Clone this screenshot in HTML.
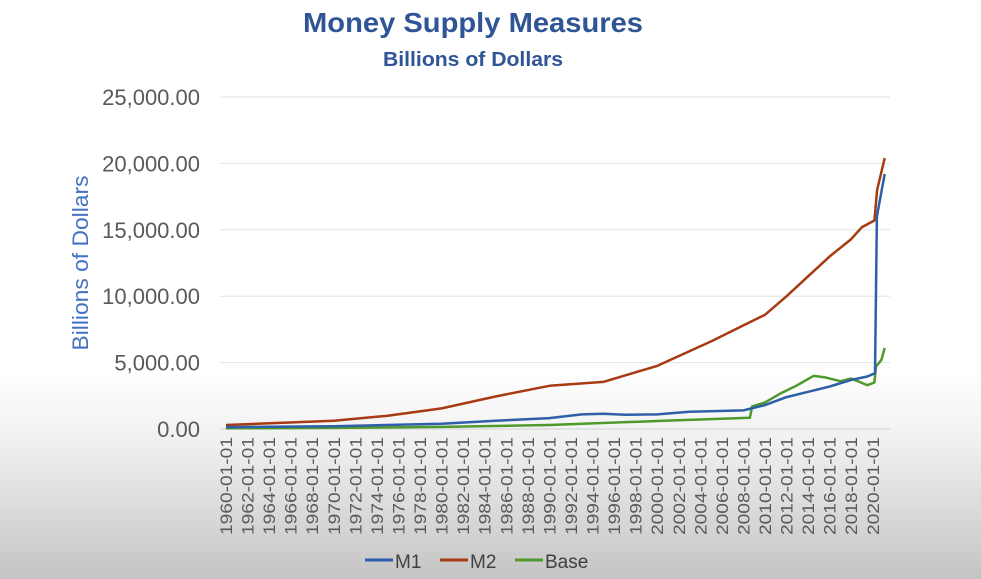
<!DOCTYPE html>
<html><head><meta charset="utf-8"><style>
html,body{margin:0;padding:0;width:981px;height:579px;overflow:hidden;background:#fff;}
svg{display:block;font-family:"Liberation Sans",sans-serif;}
</style></head><body>
<svg id="chart" width="981" height="579">
<defs><linearGradient id="fade" x1="0" y1="0" x2="0" y2="1">
<stop offset="0" stop-color="#ffffff"/><stop offset="0.35" stop-color="#f0f0f0"/><stop offset="1" stop-color="#c4c4c4"/></linearGradient></defs>
<rect x="0" y="370" width="981" height="209" fill="url(#fade)"/>
<text x="473" y="32" text-anchor="middle" font-size="28" font-weight="bold" fill="#2f5597" textLength="340" lengthAdjust="spacingAndGlyphs">Money Supply Measures</text>
<text x="473" y="66" text-anchor="middle" font-size="20" font-weight="bold" fill="#2f5597" textLength="180" lengthAdjust="spacingAndGlyphs">Billions of Dollars</text>
<text transform="translate(88,263) rotate(-90)" text-anchor="middle" font-size="22" fill="#4472c4" textLength="175" lengthAdjust="spacingAndGlyphs">Billions of Dollars</text>
<g id="grid"></g><g id="ylabels"></g><g id="xlabels"></g><g id="series"></g>
<g>
<line x1="365" y1="560" x2="393" y2="560" stroke="#2f5fa8" stroke-width="3"/><text x="395" y="568" font-size="19" fill="#404040">M1</text>
<line x1="440" y1="560" x2="468" y2="560" stroke="#a83a12" stroke-width="3"/><text x="470" y="568" font-size="19" fill="#404040">M2</text>
<line x1="515" y1="560" x2="543" y2="560" stroke="#4f9a2c" stroke-width="3"/><text x="545" y="568" font-size="19" fill="#404040">Base</text>
</g>
</svg>
<script>
const yTicks=[0,5000,10000,15000,20000,25000];
const yTickLabels=["0.00","5,000.00","10,000.00","15,000.00","20,000.00","25,000.00"];
const xTickYears=[1960,1962,1964,1966,1968,1970,1972,1974,1976,1978,1980,1982,1984,1986,1988,1990,1992,1994,1996,1998,2000,2002,2004,2006,2008,2010,2012,2014,2016,2018,2020];
const m2Years=[1960,1965,1970,1975,1980,1985,1990,1995,2000,2005,2008,2010,2012,2014,2016,2018,2019,2020.15,2020.4,2021.1];
const m2Values=[300,460,620,1000,1550,2450,3250,3550,4750,6600,7800,8600,10000,11500,13000,14300,15200,15700,18000,20400];
const m1Years=[1960,1970,1980,1985,1990,1993,1995,1997,2000,2003,2008,2010,2012,2014,2016,2018,2019.5,2020.2,2020.38,2020.6,2021.1];
const m1Values=[140,210,400,620,820,1100,1150,1070,1100,1300,1400,1800,2400,2800,3200,3700,3950,4200,16000,17000,19200];
const baseYears=[1960,1970,1980,1990,2000,2008.6,2008.8,2010,2011.5,2013,2014.5,2015.5,2017,2018,2019.5,2020.15,2020.3,2020.8,2021.1];
const baseValues=[50,80,160,300,600,850,1700,2000,2700,3300,4000,3900,3600,3800,3300,3500,4700,5200,6100];
const NS="http://www.w3.org/2000/svg";
const x0=226,xPerYear=10.78,y0=429,yPerUnit=332/25000;
const xs=t=>x0+(t-1960)*xPerYear, ys=v=>y0-v*yPerUnit;
const grid=document.getElementById('grid'),yl=document.getElementById('ylabels'),xl=document.getElementById('xlabels'),se=document.getElementById('series');
yTicks.forEach((v,i)=>{
 const l=document.createElementNS(NS,'line');
 l.setAttribute('x1',220);l.setAttribute('x2',890);l.setAttribute('y1',ys(v));l.setAttribute('y2',ys(v));
 l.setAttribute('stroke',i==0?'#d0d0d0':'#e4e4e4');l.setAttribute('stroke-width',1);
 
 
 grid.appendChild(l);
 const t=document.createElementNS(NS,'text');
 t.setAttribute('x',200);t.setAttribute('y',ys(v)+8);t.setAttribute('text-anchor','end');
 t.setAttribute('font-size',22);t.setAttribute('fill','#595959');t.textContent=yTickLabels[i];
 
 
 yl.appendChild(t);
});
xTickYears.forEach(y=>{
 const t=document.createElementNS(NS,'text');
 t.setAttribute('transform',`translate(${xs(y)+6},437) rotate(-90)`);
 t.setAttribute('text-anchor','end');t.setAttribute('font-size',17);t.setAttribute('fill','#595959');
 t.setAttribute('textLength',98);t.setAttribute('lengthAdjust','spacingAndGlyphs');
 t.textContent=y+'-01-01';
 
 
 xl.appendChild(t);
});
function draw(xsArr,vals,color,name){
 const p=document.createElementNS(NS,'polyline');
 p.setAttribute('points',xsArr.map((t,i)=>xs(t).toFixed(1)+','+ys(vals[i]).toFixed(1)).join(' '));
 p.setAttribute('fill','none');p.setAttribute('stroke',color);p.setAttribute('stroke-width',2.5);p.setAttribute('stroke-linejoin','round');
 
 
 se.appendChild(p);
}
draw(baseYears,baseValues,'#4f9a2c','base-line');
draw(m2Years,m2Values,'#a83a12','m2-line');
draw(m1Years,m1Values,'#2f5fa8','m1-line');
</script>
</body></html>
